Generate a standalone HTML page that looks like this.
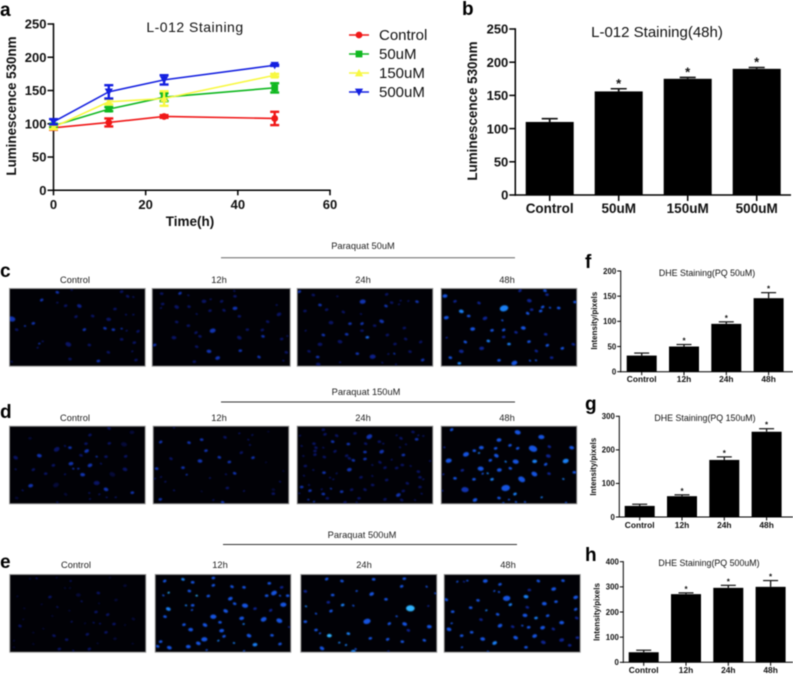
<!DOCTYPE html>
<html lang="en">
<head>
<meta charset="utf-8">
<title>L-012 and DHE staining figure</title>
<style>
html,body{margin:0;padding:0;background:#fff;width:793px;height:674px;overflow:hidden}
svg{display:block;font-family:"Liberation Sans",sans-serif}
#figure{filter:blur(.45px)}
</style>
</head>
<body>
<svg id="figure" xmlns="http://www.w3.org/2000/svg" width="793" height="674" viewBox="0 0 793 674">
<rect width="793" height="674" fill="#fff"/>
<g font-weight="bold" font-size="19" fill="#000">
<text x="0" y="16">a</text>
<text x="462" y="15">b</text>
<text x="0" y="277">c</text>
<text x="0" y="418">d</text>
<text x="0" y="568">e</text>
<text x="585" y="268">f</text>
<text x="585" y="410">g</text>
<text x="585" y="561">h</text>
</g>
<g font-size="9.3" fill="#222" text-anchor="middle">
<text x="363" y="249">Paraquat 50uM</text>
<line x1="221" y1="257.7" x2="515" y2="257.7" stroke="#666" stroke-width="1"/>
<text x="75" y="283">Control</text>
<text x="219" y="283">12h</text>
<text x="363" y="283">24h</text>
<text x="507" y="283">48h</text>
<text x="366" y="395">Paraquat 150uM</text>
<line x1="221" y1="402" x2="515" y2="402" stroke="#333" stroke-width="1"/>
<text x="75" y="421">Control</text>
<text x="219" y="421">12h</text>
<text x="363" y="421">24h</text>
<text x="507" y="421">48h</text>
<text x="362" y="538">Paraquat 500uM</text>
<line x1="223" y1="544.5" x2="517" y2="544.5" stroke="#333" stroke-width="1"/>
<text x="76" y="568">Control</text>
<text x="220" y="568">12h</text>
<text x="364" y="568">24h</text>
<text x="508" y="568">48h</text>
</g>
<g id="plots"></g>
<g id="micrographs"></g>
</svg>
<script>
// Panel a values
const timePoints = [0, 12, 24, 48];
const seriesNames = ['Control', '50uM', '150uM', '500uM'];
const controlValues = [94, 102, 111, 108];
const controlErrors = [3, 6, 2, 10];
const um50Values = [97, 122, 140, 154];
const um50Errors = [3, 3, 6, 7];
const um150Values = [95, 133, 138, 173];
const um150Errors = [3, 4, 11, 2];
const um500Values = [103, 148, 166, 188];
const um500Errors = [4, 10, 7, 1];
const lumTicks = [0, 50, 100, 150, 200, 250];
const timeTicks = [0, 20, 40, 60];

// Panel b values
const bCategories = ['Control', '50uM', '150uM', '500uM'];
const bValues = [110, 156, 175, 190];
const bErrors = [5, 4, 2, 2];

// Panels f, g, h values
const dheCategories = ['Control', '12h', '24h', '48h'];
const fValues = [32, 50, 95, 146];
const fErrors = [5, 4, 4, 11];
const fTicks = [0, 50, 100, 150, 200];
const gValues = [33, 62, 170, 254];
const gErrors = [5, 4, 9, 9];
const gTicks = [0, 100, 200, 300];
const hValues = [40, 271, 296, 300];
const hErrors = [8, 5, 10, 25];
const hTicks = [0, 100, 200, 300, 400];

// Micrograph nuclei: x, y, size, brightness (read at 3x from each crop)
const nucleiCControl=[[125,195,3,2],[172,172,3,2],[215,165,2,1],[172,203,2,1],[197,212,3,1],[238,213,4,1.5],[35,252,6,2],[75,273,2,2],[100,265,3,2],[228,245,3,1],[278,243,3,1],[326,253,4,1],[345,222,3,1],[365,170,3,1],[383,184,3,1],[400,186,2,1],[378,239,2,1],[400,239,2,1],[253,284,3,2],[315,280,3,2],[340,284,3,2],[365,281,2,2],[380,287,2,1],[414,289,3,1],[50,284,3,1],[128,319,2,1],[118,326,2,2],[113,338,2,1],[205,328,5,1],[268,330,3,1],[365,313,3,1],[403,323,3,1],[397,349,2,1],[325,352,3,1],[210,372,3,1],[295,378,3,2],[408,375,3,1],[35,380,2,1]];
const nucleiC12=[[540,175,3,2],[565,181,2,1],[485,176,3,1],[488,207,3,1],[483,219,2,1],[530,216,4,1],[567,215,3,1],[612,199,4,1],[632,193,2,1],[665,199,3,1],[703,168,2,1],[705,184,3,1],[705,220,4,2],[630,227,3,1],[672,226,3,1],[590,237,2,1],[718,244,3,1],[830,210,2,1],[837,238,4,1],[803,260,3,1],[530,261,3,1],[565,272,3,1],[638,287,5,2],[588,293,3,1],[600,304,3,1],[522,308,4,1],[742,284,3,1],[787,285,3,1],[718,308,4,1],[789,304,3,2],[862,303,2,1],[845,312,3,1],[464,330,3,2],[590,335,3,1],[627,349,4,2],[721,347,3,2],[653,369,4,2],[777,366,3,2],[859,352,3,1],[850,377,2,1],[583,380,3,1]];
const nucleiC24=[[28,170,3,2],[70,180,3,1],[142,184,2,1],[218,200,5,2],[290,178,3,1],[288,213,3,2],[305,203,3,1],[332,197,2,1],[327,208,2,1],[355,198,2,1],[381,200,3,2],[90,210,3,2],[45,228,3,1],[110,224,3,1],[160,231,3,1],[213,237,2,1],[123,263,4,1],[180,266,3,2],[216,266,3,2],[275,259,4,2],[254,272,3,1],[216,287,3,1],[343,279,3,1],[47,287,2,1],[100,300,3,2],[170,298,3,2],[232,307,3,3],[292,300,3,1],[347,312,3,1],[150,320,4,1],[90,328,4,1],[315,327,3,1],[392,321,3,1],[57,349,3,1],[202,356,3,2],[248,365,5,1.5],[295,357,2,1],[313,356,2,2],[360,350,3,1],[83,366,3,2],[150,382,2,1],[398,375,3,2],[277,383,2,1],[85,388,4,1],[318,388,2,1]];
const nucleiC48=[[690,167,3,1],[765,167,3,2],[771,179,3,1],[465,183,4,2],[495,199,3,1],[567,204,3,1],[718,197,4,1],[855,201,3,2],[642,220,7,3],[758,216,3,2],[780,218,2,2],[806,219,3,2],[725,224,3,1],[752,228,3,2],[713,235,3,2],[514,229,4,3],[536,243,3,2],[469,248,4,2],[585,250,4,1],[637,256,2,2],[700,279,4,2],[548,282,4,2],[606,286,3,2],[641,285,3,2],[678,292,3,1],[767,298,3,1],[641,306,3,1],[470,308,2,1],[526,321,3,2],[595,318,3,3],[657,327,3,3],[717,320,3,2],[772,331,3,2],[850,328,3,1],[514,349,4,1],[575,340,4,1],[817,340,3,2],[739,348,3,1],[481,368,3,2],[785,368,3,1],[627,376,3,2],[673,384,5,2],[720,377,2,2],[738,376,2,2],[508,385,3,3]];
const nucleiDControl=[[170,193,5,1],[195,183,2,1],[210,188,3,2],[258,176,3,1],[270,150,3,1],[327,130,3,1],[372,178,5,.6],[396,142,4,.6],[328,175,3,1],[260,198,4,2],[243,211,3,1],[290,215,2,2],[318,215,3,1],[377,214,3,1],[47,218,4,1],[118,212,4,2],[90,160,3,.6],[213,236,4,2],[270,241,4,2],[303,236,2,1],[220,251,2,2],[235,251,2,2],[160,241,3,1],[100,254,3,1],[375,253,4,1],[248,269,4,2],[137,266,3,1],[195,268,2,1],[337,268,5,.6],[47,253,2,1],[290,294,5,1],[92,302,4,2],[168,300,5,.6],[318,313,4,2],[268,324,2,1],[397,323,3,2],[298,328,2,1],[197,328,3,.6],[68,316,2,1],[320,337,2,1],[347,337,2,1],[270,342,2,1],[172,352,2,1],[50,339,3,.6]];
const nucleiD12=[[482,171,3,2],[567,173,3,2],[605,164,3,2],[718,145,2,1],[757,150,2,1],[675,157,3,1],[745,164,2,1],[750,180,2,1],[618,197,3,2],[724,203,3,1],[658,217,3,2],[600,228,4,2],[688,231,3,2],[759,218,3,2],[513,221,3,1],[470,251,3,2],[549,248,3,2],[560,269,2,2],[483,276,2,1],[704,265,3,2],[678,268,2,1],[630,279,2,1],[496,290,2,1],[465,281,2,1],[840,290,2,1],[522,316,2,1],[682,309,3,1],[732,318,2,1],[605,319,2,.6],[820,314,3,.6],[820,326,3,1],[481,343,3,2],[640,345,2,1],[668,352,3,2],[522,128,2,1],[805,140,2,.6],[798,232,2,.6],[850,258,2,.6]];
const nucleiD24=[[30,152,2,1],[35,183,2,1],[72,176,3,1],[100,134,3,1],[105,148,3,1],[140,152,3,1],[128,170,3,2],[175,177,3,2],[195,145,3,1],[238,155,5,2],[227,176,3,1],[268,170,3,1],[280,176,2,1],[320,151,2,1],[333,160,3,1],[369,141,3,1],[380,163,3,2],[400,153,2,1],[385,151,2,1],[78,188,3,1],[100,188,2,1],[75,198,3,1],[75,209,3,1],[135,199,3,1],[103,216,3,1],[40,213,2,1],[46,243,3,1],[170,212,3,1],[178,220,3,1],[190,226,3,2],[225,201,3,2],[225,222,3,2],[275,200,4,2],[330,187,2,1],[348,178,2,1],[340,210,3,2],[305,224,2,1],[270,232,3,1],[247,240,2,1],[337,240,3,1],[320,249,3,1],[285,248,3,1],[362,243,2,1],[70,255,2,1],[102,263,3,2],[178,254,4,2],[140,265,2,1],[42,272,2,1],[120,278,2,1],[130,283,2,1],[213,277,3,1],[247,273,2,1],[385,260,3,1],[390,277,3,1],[290,285,3,1],[400,283,2,1],[352,295,3,1],[248,300,3,1],[35,306,3,2],[60,317,3,2],[95,313,2,1],[123,311,2,2],[100,327,3,2],[155,320,3,2],[185,314,3,1],[225,314,3,1],[57,300,2,1],[390,306,3,1],[340,318,3,1],[325,330,4,2],[395,326,2,1],[112,340,3,1],[207,340,3,1],[285,343,3,1],[335,345,3,1],[375,345,2,1],[55,344,2,2],[72,350,2,2],[165,352,3,1],[200,352,2,1],[28,325,2,1],[420,228,2,1]];
const nucleiD48=[[485,134,3,2],[683,142,5,2],[754,156,5,2],[627,165,4,2],[660,181,3,2],[778,185,3,1],[845,188,4,2],[574,188,4,2],[617,190,3,2],[683,190,3,2],[729,191,7,2],[553,197,3,2],[567,204,2,3],[528,208,5,2],[619,212,4,2],[775,213,4,1],[463,187,2,1],[476,227,5,2],[601,226,3,2],[647,230,2,3],[677,230,5,2],[734,229,4,3],[827,228,5,3],[767,238,3,2],[661,250,3,2],[572,251,5,2],[628,255,4,2],[517,256,3,1],[733,267,5,2],[777,266,3,1],[853,262,3,2],[460,268,2,1],[578,266,2,2],[593,265,2,3],[495,280,3,2],[552,283,3,2],[606,283,3,3],[695,283,6,2],[820,282,2,3],[525,314,6,1.5],[647,309,7,2],[675,327,3,3],[457,317,2,1],[627,339,3,2],[657,344,2,2],[755,337,2,3],[555,345,4,2],[678,351,2,2],[705,351,2,2],[828,353,2,2],[640,354,2,2]];
const nucleiEControl=[[170,143,2,.6],[110,145,2,1],[90,146,2,.6],[212,153,2,1],[210,174,2,.6],[195,174,2,.6],[295,189,3,1],[235,195,4,.6],[150,201,3,1],[52,199,2,.6],[245,214,2,1],[297,220,2,.6],[348,210,3,.6],[125,223,2,.6],[172,231,2,1],[73,235,2,.6],[208,242,2,.6],[288,246,3,1],[323,254,3,1],[400,267,3,.6],[157,258,2,.6],[70,268,2,.6],[215,275,2,1],[255,280,2,.6],[281,278,2,1],[300,281,2,1],[342,282,3,1],[375,285,2,.6],[60,288,3,1],[130,296,2,.6],[100,308,2,.6],[318,307,3,1],[262,313,3,1],[162,317,3,1],[200,329,3,1],[345,326,3,.6],[42,332,2,.6],[100,342,2,.6],[293,340,2,.6],[398,341,2,.6],[178,357,3,1],[268,357,3,1],[220,362,2,1],[42,352,2,.6],[330,143,2,.6],[375,167,3,.6]];
const nucleiE12=[[494,153,3,2],[549,148,3,3],[578,157,3,2],[640,144,3,2],[640,166,3,2],[696,170,3,2],[732,172,3,2],[808,160,3,2],[845,172,3,1],[822,189,5,2],[840,197,2,2],[863,197,3,2],[800,197,3,2],[506,188,2,4],[490,196,2,2],[568,183,3,2],[590,197,2,4],[625,198,3,2],[691,206,4,2],[704,221,3,2],[735,227,5,2],[850,224,5,2],[765,236,3,1],[812,241,3,1],[505,237,4,3],[558,226,2,3],[578,226,3,2],[576,240,2,2],[677,243,4,2],[495,260,3,2],[640,260,5,2],[725,265,4,2],[791,268,5,2],[838,272,5,2],[660,277,3,2],[731,282,2,3],[552,284,3,2],[615,285,4,2],[867,291,2,1],[572,299,4,2],[665,302,4,2],[672,319,3,2],[747,317,4,2],[816,316,3,2],[613,328,5,2],[482,335,3,2],[655,332,2,3],[595,340,4,2],[702,339,2,3],[765,344,4,3],[840,342,3,2],[473,349,3,2],[508,353,4,2],[565,350,4,2],[620,360,2,2],[732,363,2,2]];
const nucleiE24=[[110,147,3,2],[156,153,3,2],[251,148,3,2],[343,146,3,2],[335,169,3,2],[410,170,2,2],[46,184,3,1],[128,195,3,2],[200,183,2,2],[245,192,4,2],[436,190,2,2],[288,208,3,2],[115,217,3,1],[158,225,3,3],[190,227,2,2],[48,229,2,3],[361,235,7,4],[415,228,2,1],[123,243,3,2],[78,251,2,2],[320,259,2,2],[46,275,3,2],[231,274,6,2],[298,281,3,2],[344,282,4,2],[418,290,4,2],[78,300,3,2],[90,310,2,2],[355,301,3,1],[175,311,3,3],[118,317,4,4],[241,325,3,2],[293,328,3,2],[403,331,3,2],[337,335,3,2],[148,338,2,3],[168,345,2,3],[96,355,4,2],[197,357,2,2],[190,365,4,3],[295,364,2,1]];
const nucleiE48=[[502,155,2,2],[522,155,2,1],[532,152,2,2],[586,153,4,2],[630,163,3,2],[745,153,3,2],[819,152,3,2],[718,180,3,1],[791,177,4,2],[613,183,2,2],[627,186,2,2],[708,200,4,3],[650,205,6,2],[857,202,4,2],[469,209,3,2],[564,211,3,2],[763,221,4,2],[798,215,3,2],[661,224,3,3],[712,232,3,1],[542,233,3,2],[488,245,3,2],[589,241,2,3],[857,238,3,2],[623,253,3,2],[705,256,4,2],[738,264,3,3],[773,257,3,2],[860,264,3,1],[573,269,3,1],[815,278,4,2],[485,280,2,2],[630,287,4,2],[668,290,3,1],[697,287,2,2],[716,292,3,2],[758,293,4,2],[790,297,3,1],[477,298,4,2],[545,307,3,2],[515,317,3,2],[734,318,4,2],[677,323,4,2],[578,327,4,2],[862,323,3,1],[815,330,4,1],[614,339,4,3],[760,337,4,1],[839,346,3,1],[708,352,3,2],[516,352,2,2],[594,365,2,2]];

const NS = 'http://www.w3.org/2000/svg';
const plots = document.getElementById('plots');
const micrographs = document.getElementById('micrographs');

function make(parent, tag, attrs, text) {
  const el = document.createElementNS(NS, tag);
  for (const k in attrs) el.setAttribute(k, attrs[k]);
  if (text !== undefined) el.textContent = text;
  parent.appendChild(el);
  return el;
}

function line(parent, x1, y1, x2, y2, stroke, width, name) {
  const el = make(parent, 'line', {x1: x1, y1: y1, x2: x2, y2: y2, stroke: stroke, 'stroke-width': width});
  
  
  return el;
}

function label(parent, x, y, text, size, weight, anchor, name, rotate) {
  const attrs = {x: x, y: y, 'font-size': size, 'font-weight': weight, 'text-anchor': anchor, fill: '#111'};
  if (rotate) attrs.transform = 'rotate(-90 ' + x + ' ' + y + ')';
  const el = make(parent, 'text', attrs, text);
  
  
  return el;
}

function yAxis(parent, axisX, yScale, ticks, tickLen, font, lw, prefix) {
  const top = yScale(ticks[ticks.length - 1]);
  line(parent, axisX, yScale(0) + lw / 2, axisX, top - lw / 2, '#000', lw, prefix + '-y-axis');
  ticks.forEach(function (t) {
    line(parent, axisX - tickLen, yScale(t), axisX, yScale(t), '#000', lw, prefix + '-y-tick');
    label(parent, axisX - tickLen - 1, yScale(t) + font * 0.36, String(t), font, 'bold', 'end', prefix + '-y-tick-label');
  });
}

function marker(parent, shape, x, y, color, s) {
  let el;
  if (shape === 'circle') {
    el = make(parent, 'circle', {cx: x, cy: y, r: s, fill: color});
  } else if (shape === 'square') {
    el = make(parent, 'rect', {x: x - s, y: y - s, width: 2 * s, height: 2 * s, fill: color});
  } else if (shape === 'up') {
    el = make(parent, 'polygon', {points: [x - s * 1.2, y + s, x + s * 1.2, y + s, x, y - s * 1.2].join(','), fill: color});
  } else {
    el = make(parent, 'polygon', {points: [x - s * 1.2, y - s, x + s * 1.2, y - s, x, y + s * 1.2].join(','), fill: color});
  }
  
  
  return el;
}

function drawPanelA() {
  const g = make(plots, 'g', {});
  
  
  const x0 = 53.5, x60 = 330, y0 = 190.3, y250 = 24;
  const xScale = function (t) { return x0 + t / 60 * (x60 - x0); };
  const yScale = function (v) { return y0 - v / 250 * (y0 - y250); };
  yAxis(g, x0, yScale, lumTicks, 6, 13, 1.5, 'a');
  line(g, x0 - 0.7, y0, x60 + 0.7, y0, '#000', 1.5, 'a-x-axis');
  timeTicks.forEach(function (t) {
    line(g, xScale(t), y0, xScale(t), y0 + 5, '#000', 1.5, 'a-x-tick');
    label(g, xScale(t), 209, String(t), 13, 'bold', 'middle', 'a-x-tick-label');
  });
  label(g, 190, 226, 'Time(h)', 13.5, 'bold', 'middle', 'a-x-axis-title');
  label(g, 16, 106, 'Luminescence 530nm', 13.4, 'bold', 'middle', 'a-y-axis-title', true);
  label(g, 195, 32, 'L-012 Staining', 14, 'normal', 'middle', 'a-chart-title').setAttribute('letter-spacing', '.5');

  const seriesValues = [controlValues, um50Values, um150Values, um500Values];
  const seriesErrors = [controlErrors, um50Errors, um150Errors, um500Errors];
  const colors = ['#f01818', '#10b820', '#f8f840', '#1420e0'];
  const shapes = ['circle', 'square', 'up', 'down'];
  const legendY = [35, 54, 73, 92];

  seriesValues.forEach(function (vals, si) {
    const s = make(g, 'g', {});
    
    
    const pl = make(s, 'polyline', {
      points: vals.map(function (v, i) { return xScale(timePoints[i]) + ',' + yScale(v); }).join(' '),
      fill: 'none', stroke: colors[si], 'stroke-width': 1.6
    });
    
    
    vals.forEach(function (v, i) {
      const x = xScale(timePoints[i]);
      const e = seriesErrors[si][i];
      line(s, x, yScale(v - e), x, yScale(v + e), colors[si], 2.4, 'error-bar');
      line(s, x - 4.5, yScale(v - e), x + 4.5, yScale(v - e), colors[si], 2.4, 'error-cap');
      line(s, x - 4.5, yScale(v + e), x + 4.5, yScale(v + e), colors[si], 2.4, 'error-cap');
      marker(s, shapes[si], x, yScale(v), colors[si], 3.4);
    });
    const lg = make(g, 'g', {});
    
    
    line(lg, 349, legendY[si], 369, legendY[si], colors[si], 1.6, 'legend-line');
    marker(lg, shapes[si], 359, legendY[si], colors[si], 3.4);
    label(lg, 379, legendY[si] + 5, seriesNames[si], 15, 'normal', 'start', 'legend-label');
  });
}

function drawBars(opts) {
  const g = make(plots, 'g', {});
  
  
  const maxTick = opts.ticks[opts.ticks.length - 1];
  const yScale = function (v) { return opts.y0 - v / maxTick * (opts.y0 - opts.yTop); };
  const xBand = function (i) { return opts.firstBar + i * opts.step; };
  opts.values.forEach(function (v, i) {
    const left = xBand(i);
    const mid = left + opts.barW / 2;
    const errTop = yScale(v + opts.errors[i]);
    line(g, mid, yScale(v), mid, errTop, '#111', opts.lw + 0.3, 'error-bar');
    line(g, mid - opts.capW / 2, errTop, mid + opts.capW / 2, errTop, '#111', opts.capLw, 'error-cap');
    const bar = make(g, 'rect', {x: left, y: yScale(v), width: opts.barW, height: opts.y0 - yScale(v), fill: '#000'});
    
    
    if (i > 0) {
      label(g, mid, errTop + opts.starOffset, '*', opts.starSize, 'bold', 'middle', 'significance-star');
    }
    line(g, mid, opts.y0, mid, opts.y0 + opts.tick, '#000', opts.lw, opts.id + '-x-tick');
    label(g, mid, opts.catY, opts.categories[i], opts.catFont, 'bold', 'middle', opts.id + '-x-tick-label');
  });
  line(g, opts.axisX - opts.lw / 2, opts.y0, opts.xEnd, opts.y0, '#000', opts.lw, opts.id + '-x-axis');
  yAxis(g, opts.axisX, yScale, opts.ticks, opts.tick, opts.tickFont, opts.lw, opts.id);
  label(g, opts.yTitleX, opts.yTitleY, opts.yTitle, opts.yTitleFont, 'bold', 'middle', opts.id + '-y-axis-title', true);
  label(g, opts.titleX, opts.titleY, opts.title, opts.titleFont, 'normal', 'middle', opts.id + '-chart-title');
}

const dimPalette = {0.6: '#060a38', 1: '#0a1464', 1.5: '#0e2088', 2: '#1234b0', 3: '#1a66e0', 4: '#30b0ff'};
const brightPalette = {0.6: '#080e50', 1: '#0e2490', 1.5: '#1234b0', 2: '#1654e0', 3: '#1a80f5', 4: '#30b4ff'};

function drawMicrograph(name, x, y, w, h, cropX, cropY, nuclei, palette) {
  const frame = make(micrographs, 'rect', {x: x - 0.5, y: y - 0.5, width: w + 1, height: h + 1, fill: '#010106', stroke: '#999', 'stroke-width': 1});
  
  
  const inner = make(micrographs, 'svg', {x: x, y: y, width: w, height: h});
  
  
  const g = make(inner, 'g', {style: 'filter:blur(.6px)'});
  nuclei.forEach(function (n, i) {
    const cx = n[0] / 3 + cropX - x;
    const cy = n[1] / 3 + cropY - y;
    const deg = (i * 47) % 60 - 30;
    const c = make(g, 'ellipse', {cx: cx, cy: cy, rx: n[2] / 3 * 1.85, ry: n[2] / 3 * 1.3, fill: palette[n[3]], transform: 'rotate(' + deg + ' ' + cx + ' ' + cy + ')'});
    
    
  });
}

drawPanelA();

drawBars({id: 'b', categories: bCategories, values: bValues, errors: bErrors, ticks: lumTicks,
  y0: 195, yTop: 29, axisX: 515.3, xEnd: 791, firstBar: 525.7, step: 69, barW: 48, capW: 16, capLw: 1.6, lw: 1.5,
  tick: 6, tickFont: 13, catFont: 13.5, catY: 213, starOffset: -1, starSize: 13,
  yTitle: 'Luminescence 530nm', yTitleX: 477, yTitleY: 111, yTitleFont: 13.4,
  title: 'L-012 Staining(48h)', titleX: 657, titleY: 37, titleFont: 15});

drawBars({id: 'f', categories: dheCategories, values: fValues, errors: fErrors, ticks: fTicks,
  y0: 371.7, yTop: 271, axisX: 620.7, xEnd: 793, firstBar: 626.7, step: 42.3, barW: 30, capW: 15, capLw: 1.2, lw: 1,
  tick: 3.5, tickFont: 7.8, catFont: 8.4, catY: 382, starOffset: -1, starSize: 8,
  yTitle: 'Intensity/pixels', yTitleX: 597, yTitleY: 320.7, yTitleFont: 8,
  title: 'DHE Staining(PQ 50uM)', titleX: 707, titleY: 276, titleFont: 8.85});

drawBars({id: 'g', categories: dheCategories, values: gValues, errors: gErrors, ticks: gTicks,
  y0: 517, yTop: 416.3, axisX: 619.3, xEnd: 793, firstBar: 624.7, step: 42.3, barW: 30, capW: 15, capLw: 1.2, lw: 1,
  tick: 3.5, tickFont: 7.8, catFont: 8.4, catY: 528, starOffset: -1, starSize: 8,
  yTitle: 'Intensity/pixels', yTitleX: 596, yTitleY: 466.7, yTitleFont: 8,
  title: 'DHE Staining(PQ 150uM)', titleX: 705, titleY: 421, titleFont: 8.85});

drawBars({id: 'h', categories: dheCategories, values: hValues, errors: hErrors, ticks: hTicks,
  y0: 662.3, yTop: 561.7, axisX: 623.3, xEnd: 793, firstBar: 628.7, step: 42.3, barW: 30, capW: 15, capLw: 1.2, lw: 1,
  tick: 3.5, tickFont: 7.8, catFont: 8.4, catY: 673, starOffset: -1, starSize: 8,
  yTitle: 'Intensity/pixels', yTitleX: 599.7, yTitleY: 612, yTitleFont: 8,
  title: 'DHE Staining(PQ 500uM)', titleX: 709, titleY: 566, titleFont: 8.85});

drawMicrograph('micrograph-c-control', 10, 289, 134.7, 76.7, 0, 235, nucleiCControl, dimPalette);
drawMicrograph('micrograph-c-12h', 152.7, 289, 137, 76.7, 0, 235, nucleiC12, dimPalette);
drawMicrograph('micrograph-c-24h', 297.7, 289, 134.6, 76.7, 290, 235, nucleiC24, dimPalette);
drawMicrograph('micrograph-c-48h', 441.7, 289, 134.6, 76.7, 290, 235, nucleiC48, brightPalette);
drawMicrograph('micrograph-d-control', 10, 426.7, 134.7, 76.6, 0, 385, nucleiDControl, dimPalette);
drawMicrograph('micrograph-d-12h', 153.7, 426.7, 134.6, 76.6, 0, 385, nucleiD12, dimPalette);
drawMicrograph('micrograph-d-24h', 297.7, 426.7, 134.6, 76.6, 290, 385, nucleiD24, dimPalette);
drawMicrograph('micrograph-d-48h', 441.7, 426.7, 134.6, 76.6, 290, 385, nucleiD48, brightPalette);
drawMicrograph('micrograph-e-control', 10.3, 575, 135, 76.7, 0, 530, nucleiEControl, dimPalette);
drawMicrograph('micrograph-e-12h', 155.7, 575, 134.6, 76.7, 0, 530, nucleiE12, brightPalette);
drawMicrograph('micrograph-e-24h', 301.3, 575, 135, 76.7, 290, 530, nucleiE24, brightPalette);
drawMicrograph('micrograph-e-48h', 444.7, 575, 135, 76.7, 290, 530, nucleiE48, brightPalette);
</script>
</body>
</html>
